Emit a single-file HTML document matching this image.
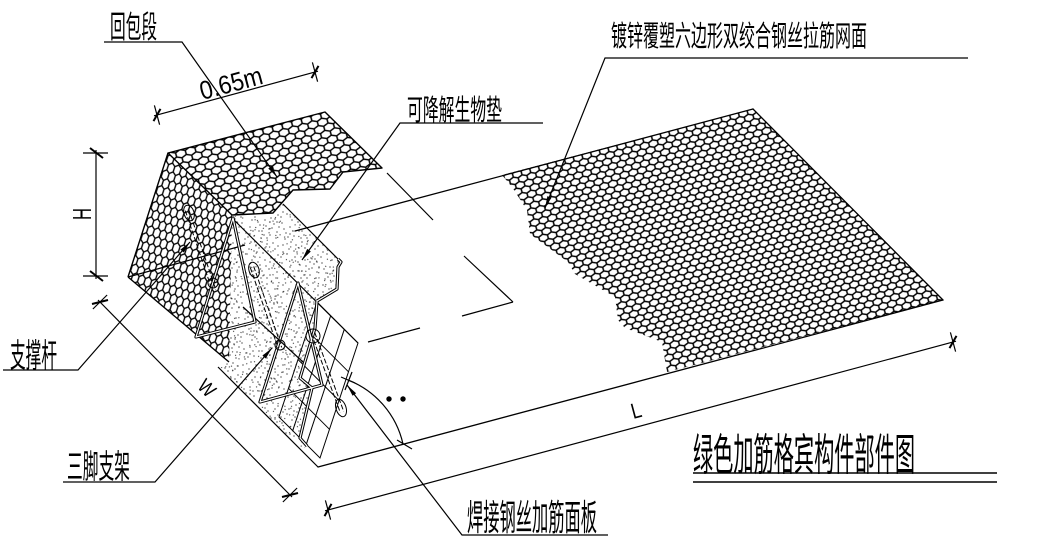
<!DOCTYPE html>
<html><head><meta charset="utf-8">
<style>
html,body{margin:0;padding:0;background:#fff;}
svg{display:block;}
text{font-family:"Liberation Sans","Noto Sans CJK SC",sans-serif;fill:#000;}
</style></head>
<body>
<svg width="1062" height="552" viewBox="0 0 1062 552" xmlns="http://www.w3.org/2000/svg">
<defs>
<pattern id="hexG" width="9" height="11.4" patternUnits="userSpaceOnUse" patternTransform="rotate(-15)">
<path d="M4.5,0V1.9L0,3.8V7.6L4.5,9.5V11.4M4.5,1.9L9,3.8V7.6L4.5,9.5" fill="none" stroke="#000" stroke-width="1.5"/>
</pattern>
<pattern id="hexT" width="10" height="12.6" patternUnits="userSpaceOnUse" patternTransform="rotate(-15)">
<path d="M5,0V2.1L0,4.2V8.4L5,10.5V12.6M5,2.1L10,4.2V8.4L5,10.5" fill="none" stroke="#000" stroke-width="1.5"/>
</pattern>
<pattern id="hexL" width="6.6" height="16.5" patternUnits="userSpaceOnUse" patternTransform="rotate(18)">
<path d="M3.3,0V2.75L0,5.5V11L3.3,13.75V16.5M3.3,2.75L6.6,5.5V11L3.3,13.75" fill="none" stroke="#000" stroke-width="1.35"/>
</pattern>
<pattern id="spk" width="40" height="40" patternUnits="userSpaceOnUse">
<g fill="#222">
<circle cx="3" cy="5" r="0.65"/><circle cx="11" cy="2" r="0.65"/><circle cx="19" cy="8" r="0.65"/><circle cx="27" cy="4" r="0.65"/><circle cx="35" cy="9" r="0.65"/>
<circle cx="7" cy="14" r="0.65"/><circle cx="15" cy="17" r="0.65"/><circle cx="23" cy="13" r="0.65"/><circle cx="31" cy="18" r="0.65"/><circle cx="38" cy="15" r="0.65"/>
<circle cx="2" cy="23" r="0.65"/><circle cx="10" cy="27" r="0.65"/><circle cx="18" cy="22" r="0.65"/><circle cx="26" cy="26" r="0.65"/><circle cx="34" cy="24" r="0.65"/>
<circle cx="6" cy="33" r="0.65"/><circle cx="14" cy="36" r="0.65"/><circle cx="22" cy="31" r="0.65"/><circle cx="30" cy="35" r="0.65"/><circle cx="37" cy="32" r="0.65"/>
<circle cx="5" cy="39" r="0.65"/><circle cx="13" cy="31" r="0.65"/><circle cx="21" cy="38" r="0.65"/><circle cx="29" cy="29" r="0.65"/><circle cx="36" cy="38" r="0.65"/>
<circle cx="9" cy="9" r="0.65"/><circle cx="17" cy="12" r="0.65"/><circle cx="25" cy="20" r="0.65"/><circle cx="33" cy="3" r="0.65"/><circle cx="1" cy="17" r="0.65"/>
<circle cx="12" cy="20" r="0.65"/><circle cx="20" cy="25" r="0.65"/><circle cx="28" cy="11" r="0.65"/><circle cx="39" cy="27" r="0.65"/><circle cx="4" cy="29" r="0.65"/>
<circle cx="16" cy="5" r="0.65"/><circle cx="24" cy="35" r="0.65"/><circle cx="32" cy="28" r="0.65"/><circle cx="8" cy="37" r="0.65"/><circle cx="38" cy="6" r="0.65"/>
<circle cx="14" cy="11" r="0.65"/><circle cx="22" cy="2" r="0.65"/><circle cx="30" cy="22" r="0.65"/><circle cx="3" cy="12" r="0.65"/><circle cx="27" cy="38" r="0.65"/>
<circle cx="19" cy="31" r="0.65"/><circle cx="35" cy="19" r="0.65"/><circle cx="10" cy="34" r="0.65"/><circle cx="25" cy="8" r="0.65"/><circle cx="37" cy="22" r="0.65"/>
</g>
</pattern>
<pattern id="spk2" width="40" height="40" patternUnits="userSpaceOnUse" patternTransform="rotate(37) translate(7,13)">
<g fill="#333">
<circle cx="3" cy="5" r="0.6"/><circle cx="19" cy="8" r="0.6"/><circle cx="35" cy="9" r="0.6"/><circle cx="15" cy="17" r="0.6"/><circle cx="31" cy="18" r="0.6"/>
<circle cx="2" cy="23" r="0.6"/><circle cx="18" cy="22" r="0.6"/><circle cx="34" cy="24" r="0.6"/><circle cx="14" cy="36" r="0.6"/><circle cx="30" cy="35" r="0.6"/>
<circle cx="9" cy="9" r="0.6"/><circle cx="25" cy="20" r="0.6"/><circle cx="12" cy="20" r="0.6"/><circle cx="28" cy="11" r="0.6"/><circle cx="4" cy="29" r="0.6"/>
<circle cx="24" cy="35" r="0.6"/><circle cx="38" cy="6" r="0.6"/><circle cx="22" cy="2" r="0.6"/><circle cx="19" cy="31" r="0.6"/><circle cx="37" cy="22" r="0.6"/>
</g>
</pattern>
<pattern id="spk3" width="40" height="40" patternUnits="userSpaceOnUse" patternTransform="rotate(-61) translate(17,3)">
<g fill="#333">
<circle cx="3" cy="5" r="0.6"/><circle cx="19" cy="8" r="0.6"/><circle cx="35" cy="9" r="0.6"/><circle cx="15" cy="17" r="0.6"/><circle cx="31" cy="18" r="0.6"/>
<circle cx="2" cy="23" r="0.6"/><circle cx="18" cy="22" r="0.6"/><circle cx="34" cy="24" r="0.6"/><circle cx="14" cy="36" r="0.6"/><circle cx="30" cy="35" r="0.6"/>
<circle cx="9" cy="9" r="0.6"/><circle cx="25" cy="20" r="0.6"/><circle cx="12" cy="20" r="0.6"/><circle cx="28" cy="11" r="0.6"/><circle cx="4" cy="29" r="0.6"/>
</g>
</pattern>
</defs>

<rect width="1062" height="552" fill="#fff"/>

<!-- ground mesh -->
<polygon points="502,175 753,109 943,300 667,372 662,342 625,328 618,320 615,297 575,274 568,262 530,234 527,210 512,187" fill="url(#hexG)"/>
<g stroke="#000" stroke-width="1.3" fill="none" stroke-linecap="round">
<line x1="295" y1="231" x2="753" y2="109"/>
<line x1="753" y1="109" x2="943" y2="300"/>
<line x1="318" y1="467" x2="943" y2="300"/>
</g>

<!-- speckle biomat -->
<polygon points="232,216 273,214 283,204 338,259 340,265 336,267 336,289 317,301 315,328 300,378 312,388 300,438 307,446 302,450 220,368 229,362" fill="url(#spk)"/>
<polygon points="232,216 273,214 283,204 338,259 340,265 336,267 336,289 317,301 315,328 300,378 312,388 300,438 307,446 302,450 220,368 229,362" fill="url(#spk2)"/>
<polygon points="232,216 273,214 283,204 338,259 340,265 336,267 336,289 317,301 315,328 300,378 312,388 300,438 307,446 302,450 220,368 229,362" fill="url(#spk3)"/>

<!-- left face mesh -->
<polygon points="168,153 232,215 229,362 128,277" fill="url(#hexL)"/>
<!-- top mesh -->
<polygon points="232,215 168,153 325,112 382,168 343,172 330,189 293,190 273,213" fill="#fff"/>
<polygon points="232,215 168,153 325,112 382,168 343,172 330,189 293,190 273,213" fill="url(#hexT)"/>

<g stroke="#000" stroke-width="1.4" fill="none" stroke-linejoin="round">
<polyline points="232,215 168,153 325,112 382,168 343,172 330,189 293,190 273,213 232,215"/>
<line x1="168" y1="153" x2="128" y2="277"/>
<line x1="128" y1="277" x2="229" y2="362"/>
</g>

<!-- box lines -->
<g stroke="#000" stroke-width="1.2" fill="none">
<line x1="218" y1="367" x2="318" y2="467"/>
<line x1="232" y1="218" x2="358" y2="343"/>
<line x1="283" y1="204" x2="338" y2="259"/>
<line x1="243" y1="307" x2="303" y2="362"/>
<line x1="128" y1="277" x2="245" y2="245"/>
</g>

<!-- welded panel grid -->
<g stroke="#000" stroke-width="1" fill="none">
<polygon points="317,302 358,343 320,458 279,417"/>
<line x1="348.5" y1="371.8" x2="307.5" y2="330.8"/>
<line x1="339" y1="400.5" x2="298" y2="359.5"/>
<line x1="329.5" y1="429.3" x2="288.5" y2="388.3"/>
<line x1="330.7" y1="315.7" x2="292.7" y2="430.7"/>
<line x1="344.3" y1="329.3" x2="306.3" y2="444.3"/>
</g>

<!-- double-line profiles: notch, zigzag, triangles -->
<g fill="none" stroke-linejoin="round">
<g stroke="#000" stroke-width="3.2">
<polyline points="338,259 341,262 338,267 337,289 317,301"/>
<polyline points="317,301 315,328 300,378 312,388 300,438 307,446"/>
<polygon points="233,218 196,337 255,322"/>
<polygon points="298,283 260,402 322,385"/>
</g>
<g stroke="#fff" stroke-width="1.2">
<polyline points="338,259 341,262 338,267 337,289 317,301"/>
<polyline points="317,301 315,328 300,378 312,388 300,438 307,446"/>
<polygon points="233,218 196,337 255,322"/>
<polygon points="298,283 260,402 322,385"/>
</g>
</g>

<!-- support rods -->
<g stroke="#000" stroke-width="1" fill="none">
<line x1="185.3" y1="210.6" x2="212.3" y2="290.6" stroke-dasharray="5 2"/>
<line x1="188.7" y1="209.4" x2="215.7" y2="289.4" stroke-dasharray="5 2"/>
<ellipse cx="189" cy="213" rx="5" ry="8" transform="rotate(-18 189 213)"/>
<circle cx="213" cy="283" r="5"/>
<line x1="250.3" y1="267.6" x2="278.3" y2="348.6" stroke-dasharray="5 2"/>
<line x1="253.7" y1="266.4" x2="281.7" y2="347.4" stroke-dasharray="5 2"/>
<ellipse cx="254" cy="270" rx="5" ry="8" transform="rotate(-18 254 270)"/>
<circle cx="280" cy="345" r="5"/>
<line x1="311.3" y1="333.6" x2="340.3" y2="412.6" stroke-dasharray="5 2"/>
<line x1="314.7" y1="332.4" x2="343.7" y2="411.4" stroke-dasharray="5 2"/>
<circle cx="313" cy="336" r="7"/>
<ellipse cx="341" cy="408" rx="5" ry="9" transform="rotate(-18 341 408)"/>
</g>

<!-- hidden/center lines -->
<g stroke="#000" stroke-width="1.2">
<line x1="387" y1="173" x2="433" y2="220"/>
<line x1="464" y1="256" x2="513" y2="302"/>
<line x1="513" y1="302" x2="462" y2="316"/>
<line x1="420" y1="328" x2="368" y2="342"/>
</g>

<!-- angle arc -->
<g stroke="#000" stroke-width="1.2" fill="none">
<path d="M348,380 A90,90 0 0 1 403,444"/>
<line x1="341" y1="377" x2="355" y2="383"/>
<line x1="345" y1="390" x2="352" y2="372"/>
<line x1="397" y1="440" x2="412" y2="449"/>
</g>
<circle cx="389" cy="399" r="2.7" fill="#000"/>
<circle cx="403" cy="399" r="2.7" fill="#000"/>

<!-- leaders -->
<g stroke="#000" stroke-width="1.2" fill="none">
<polyline points="104,42 182,42 277,177"/>
<polyline points="543,123 400,123 302,260"/>
<polyline points="968,58 605,58 545,208"/>
<polyline points="3,370 78,370 190,242"/>
<polyline points="63,482 155,482 272,348"/>
<polyline points="608,535 462,535 347,385"/>
</g>
<g fill="#000">
<polygon points="277,177 268.3,168.5 271.9,165.9"/>
<polygon points="302,260 307.2,248.9 310.8,251.5"/>
<polygon points="545,208 547.4,196.1 551.5,197.7"/>
<polygon points="190,242 183.8,252.5 180.4,249.6"/>
<polygon points="272,348 265.8,358.5 262.4,355.6"/>
<polygon points="347,385 356.1,393.2 352.6,395.8"/>
</g>

<!-- dimensions -->
<g stroke="#000" stroke-width="1.2" fill="none">
<line x1="154" y1="115.8" x2="318" y2="71.2"/>
<line x1="154.4" y1="105.4" x2="159.6" y2="124.7"/>
<line x1="153.5" y1="121.1" x2="160.5" y2="108.9" stroke-width="2"/>
<line x1="312.4" y1="62.4" x2="317.6" y2="81.7"/>
<line x1="311.5" y1="78.1" x2="318.5" y2="65.9" stroke-width="2"/>

<line x1="96" y1="150" x2="96" y2="279"/>
<line x1="83" y1="153" x2="108" y2="153"/>
<line x1="90" y1="148" x2="103" y2="158" stroke-width="2"/>
<line x1="83" y1="276" x2="108" y2="276"/>
<line x1="90" y1="271" x2="103" y2="281" stroke-width="2"/>

<line x1="98" y1="300" x2="292" y2="497"/>
<line x1="107.1" y1="295" x2="92.9" y2="309"/>
<line x1="92" y1="304" x2="108" y2="300" stroke-width="2"/>
<line x1="297.1" y1="488" x2="282.9" y2="502"/>
<line x1="282" y1="497" x2="298" y2="493" stroke-width="2"/>

<line x1="325" y1="510.8" x2="956" y2="341.2"/>
<line x1="325.4" y1="500.4" x2="330.6" y2="519.6"/>
<line x1="324.5" y1="516.1" x2="331.5" y2="503.9" stroke-width="2"/>
<line x1="950.4" y1="332.4" x2="955.6" y2="351.6"/>
<line x1="949.5" y1="348.1" x2="956.5" y2="335.9" stroke-width="2"/>
</g>

<!-- dimension texts -->
<text transform="translate(231,83) rotate(-15)" x="-32" y="9" font-size="26" textLength="64" lengthAdjust="spacingAndGlyphs">0.65m</text>
<text transform="translate(82,214) rotate(-90)" x="-6" y="9" font-size="26" textLength="12" lengthAdjust="spacingAndGlyphs">H</text>
<text transform="translate(207,388) rotate(45)" x="-8" y="7" font-size="20" textLength="16" lengthAdjust="spacingAndGlyphs">W</text>
<text transform="translate(636,410) rotate(-15)" x="-5" y="8" font-size="22" textLength="10" lengthAdjust="spacingAndGlyphs">L</text>

<!-- labels -->
<text x="110" y="38" font-size="31" textLength="47" lengthAdjust="spacingAndGlyphs">回包段</text>
<text x="407" y="120" font-size="29" textLength="95" lengthAdjust="spacingAndGlyphs">可降解生物垫</text>
<text x="611" y="46" font-size="29" textLength="256" lengthAdjust="spacingAndGlyphs">镀锌覆塑六边形双绞合钢丝拉筋网面</text>
<text x="10" y="367" font-size="33" textLength="47" lengthAdjust="spacingAndGlyphs">支撑杆</text>
<text x="67" y="478" font-size="33" textLength="63" lengthAdjust="spacingAndGlyphs">三脚支架</text>
<text x="467" y="530" font-size="36" textLength="130" lengthAdjust="spacingAndGlyphs">焊接钢丝加筋面板</text>
<text x="693" y="470" font-size="44" textLength="222" lengthAdjust="spacingAndGlyphs">绿色加筋格宾构件部件图</text>
<g stroke="#000" stroke-width="1.4">
<line x1="693" y1="473" x2="997" y2="473"/>
<line x1="693" y1="482" x2="997" y2="482"/>
</g>
</svg>
</body></html>
